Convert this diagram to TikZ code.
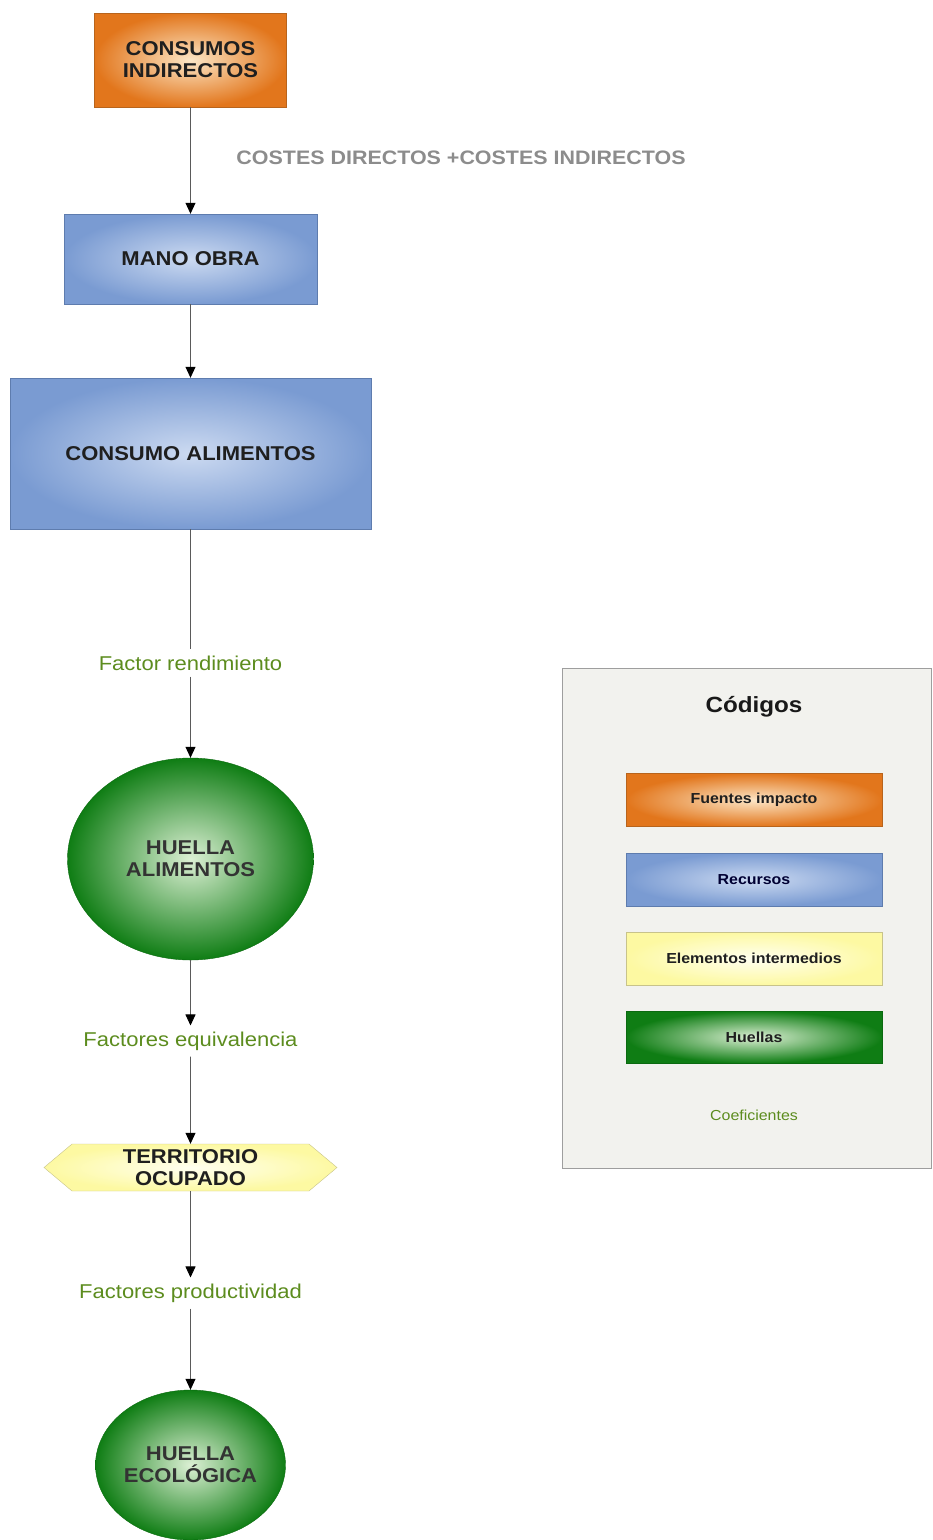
\documentclass[tikz,border=0pt]{standalone}
\usepackage{fontspec}
\setmainfont{Liberation Sans}[FakeStretch=1.1]
\usetikzlibrary{shapes.geometric,shapes.symbols,arrows.meta}

\definecolor{orangeout}{HTML}{E2761C}
\definecolor{orangein}{HTML}{FCE6C6}
\definecolor{orangeline}{HTML}{B8641C}
\definecolor{blueout}{HTML}{7A9BD2}
\definecolor{bluein}{HTML}{CCDAF1}
\definecolor{blueline}{HTML}{5E7CAE}
\definecolor{greenout}{HTML}{0F7D14}
\definecolor{greenin}{HTML}{DCF0D4}
\definecolor{greenline}{HTML}{0B6A10}
\definecolor{yellowout}{HTML}{FDF9A2}
\definecolor{yellowin}{HTML}{FFFFF0}
\definecolor{yellowline}{HTML}{C8C38A}
\definecolor{coefgreen}{HTML}{5C8C1E}
\definecolor{costgray}{HTML}{8C8C8C}
\definecolor{flowgray}{HTML}{5A5A5A}
\definecolor{legendbg}{HTML}{F2F2EE}
\definecolor{legendline}{HTML}{9E9E9E}

\begin{document}
\begin{tikzpicture}[x=1pt,y=-1pt,thin,>={Triangle[width=10pt,length=11pt,color=black]},
		big text/.style={font=\bfseries\fontsize{20}{22}\selectfont,text=black!88},
		small text/.style={font=\bfseries\fontsize{14.5}{16}\selectfont,text=black!88},
		impact state/.style={rectangle,draw=orangeline,inner color=orangein,outer color=orangeout,align=center,inner sep=0pt},
		resource state/.style={rectangle,draw=blueline,inner color=bluein,outer color=blueout,align=center,inner sep=0pt},
		middle state/.style={draw=yellowline,inner color=yellowin,outer color=yellowout,align=center,inner sep=0pt},
		print state/.style={draw=greenline,inner color=greenin,outer color=greenout,align=center,inner sep=0pt},
		coef label/.style={text=coefgreen,font=\fontsize{20}{22}\selectfont,inner sep=6pt},
		flow/.style={draw=flowgray,line width=0.8pt}]

	\useasboundingbox (0,0) rectangle (933,1540);

	% columna principal
	\node [impact state, big text, minimum width=192pt, minimum height=94pt] (box-ci) at (190.5,60) {CONSUMOS\\INDIRECTOS};
	\node [resource state, big text, minimum width=253pt, minimum height=90pt] (box-mo) at (190.5,259) {MANO OBRA};
	\node [resource state, big text, minimum width=361pt, minimum height=151pt] (box-ca) at (190.5,453.5) {CONSUMO ALIMENTOS};
	\node [coef label] (coef-fr) at (190.5,663) {Factor rendimiento};
	\node [print state, ellipse, big text, text=black!80, minimum width=246pt, minimum height=202pt] (huella-al) at (190.5,859) {HUELLA\\ALIMENTOS};
	\node [coef label] (coef-fe) at (190.5,1041) {Factores equivalencia};
	\node [middle state, signal, signal to=west and east, signal pointer angle=80, big text, minimum width=293pt, minimum height=47pt] (terr-oc) at (190.5,1167.5) {TERRITORIO\\OCUPADO};
	\node [coef label] (coef-fp) at (190.5,1293) {Factores productividad};
	\node [print state, ellipse, big text, text=black!80, minimum width=190pt, minimum height=150pt] (huella-ec) at (190.5,1465) {HUELLA\\ECOLÓGICA};

	\node [text=costgray, font=\bfseries\fontsize{19.5}{21}\selectfont] (lab-costes) at (461,158) {COSTES DIRECTOS +COSTES INDIRECTOS};

	\draw [flow,->] (box-ci) -- (box-mo);
	\draw [flow,->] (box-mo) -- (box-ca);
	\draw [flow] (box-ca) -- (coef-fr);
	\draw [flow,->] (coef-fr) -- (huella-al);
	\draw [flow,->] (huella-al) -- (coef-fe);
	\draw [flow,->] (coef-fe) -- (terr-oc);
	\draw [flow,->] (terr-oc) -- (coef-fp);
	\draw [flow,->] (coef-fp) -- (huella-ec);

	% leyenda
	\node [rectangle, fill=legendbg, draw=legendline, minimum width=369pt, minimum height=500pt] (legend) at (746.5,918) {};
	\node [font=\bfseries\fontsize{22}{24}\selectfont, text=black!90] (leg-title) at (754,707) {Códigos};
	\node [impact state, small text, minimum width=256pt, minimum height=53pt] (leg-fi) at (754,800) {Fuentes impacto};
	\node [resource state, small text, text=black!80!blue, minimum width=256pt, minimum height=53pt] (leg-re) at (754,879.5) {Recursos};
	\node [middle state, rectangle, small text, minimum width=256pt, minimum height=53pt] (leg-ei) at (754,958.5) {Elementos intermedios};
	\node [print state, rectangle, small text, minimum width=256pt, minimum height=52pt] (leg-hu) at (754,1037) {Huellas};
	\node [text=coefgreen, font=\fontsize{14.5}{16}\selectfont] (leg-co) at (754,1115) {Coeficientes};
\end{tikzpicture}
\end{document}
